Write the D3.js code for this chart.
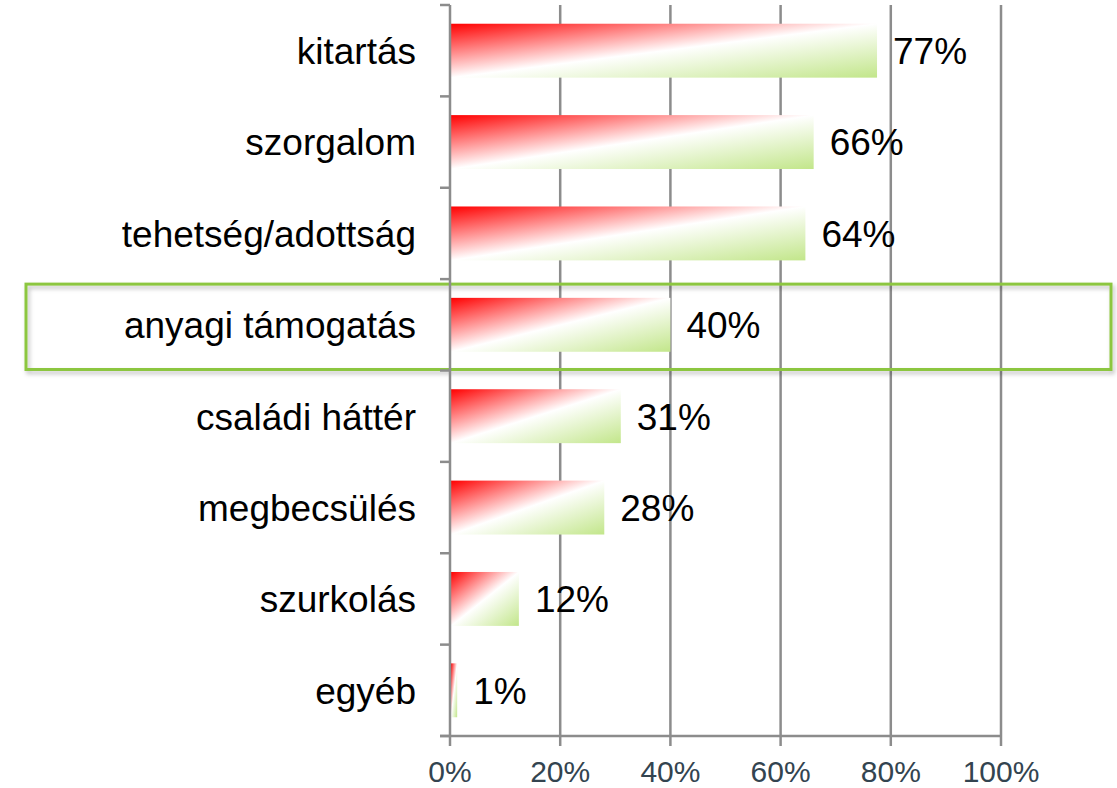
<!DOCTYPE html>
<html>
<head>
<meta charset="utf-8">
<script src="https://cdn.jsdelivr.net/npm/d3@7"></script>
<style>
  body { margin: 0; background: #fff; }
  text { font-family: "Liberation Sans", Arial, sans-serif; }
</style>
</head>
<body>
<div id="chart"></div>
<script>
var categories = ["kitartás", "szorgalom", "tehetség/adottság", "anyagi támogatás",
                  "családi háttér", "megbecsülés", "szurkolás", "egyéb"];
var values = [0.775, 0.66, 0.645, 0.40, 0.31, 0.28, 0.125, 0.013];
var labels = ["77%", "66%", "64%", "40%", "31%", "28%", "12%", "1%"];
var xTicks = [0, 0.2, 0.4, 0.6, 0.8, 1.0];
var highlighted = "anyagi támogatás";

var W = 1117, H = 788;
var GRID = "#8c8c8c";

var svg = d3.select("#chart").append("svg")
    .attr("width", W).attr("height", H);

var defs = svg.append("defs");
var grad = defs.append("linearGradient")
    .attr("id", "barGrad")
    .attr("x1", 0).attr("y1", 0).attr("x2", 1).attr("y2", 1);
grad.append("stop").attr("offset", "0%").attr("stop-color", "#ff0000");
grad.append("stop").attr("offset", "50%").attr("stop-color", "#ffffff");
grad.append("stop").attr("offset", "100%").attr("stop-color", "#c2e68a");

var shadow = defs.append("filter").attr("id", "shadow")
    .attr("x", "-5%").attr("y", "-20%").attr("width", "110%").attr("height", "150%");
shadow.append("feDropShadow")
    .attr("dx", 2).attr("dy", 3).attr("stdDeviation", 2)
    .attr("flood-color", "#000").attr("flood-opacity", 0.25);

var x = d3.scaleLinear().domain([0, 1]).range([450, 1001]);
var y = d3.scaleBand().domain(categories).range([5, 736])
    .paddingInner(0.41).paddingOuter(0.205);

// vertical gridlines
svg.append("g").selectAll("line").data(xTicks.slice(1)).enter().append("line")
    .attr("x1", function(d){ return x(d); }).attr("x2", function(d){ return x(d); })
    .attr("y1", 5).attr("y2", 736)
    .attr("stroke", GRID).attr("stroke-width", 2.5);

// highlight box
var hStart = y(highlighted) - y.step() * y.paddingInner() / 2;
svg.append("rect")
    .attr("x", 26).attr("y", hStart + 5)
    .attr("width", 1085).attr("height", y.step() - 6)
    .attr("fill", "none")
    .attr("stroke", "#8cc63f").attr("stroke-width", 3)
    .attr("filter", "url(#shadow)");

// bars
svg.append("g").selectAll("rect").data(values).enter().append("rect")
    .attr("x", x(0) + 1)
    .attr("y", function(d, i){ return y(categories[i]); })
    .attr("width", function(d){ return x(d) - x(0) - 1; })
    .attr("height", y.bandwidth())
    .attr("fill", "url(#barGrad)");

// value labels
svg.append("g").selectAll("text").data(values).enter().append("text")
    .attr("x", function(d){ return x(d) + 16; })
    .attr("y", function(d, i){ return y(categories[i]) + y.bandwidth() / 2; })
    .attr("dy", "0.36em")
    .attr("font-size", 37)
    .attr("fill", "#000")
    .text(function(d, i){ return labels[i]; });

// y axis
var yAxis = svg.append("g");
yAxis.append("line")
    .attr("x1", x(0)).attr("x2", x(0)).attr("y1", 5).attr("y2", 736)
    .attr("stroke", GRID).attr("stroke-width", 2.5);
var boundaries = d3.range(categories.length + 1).map(function(i){ return 5 + i * y.step(); });
yAxis.selectAll(".ytick").data(boundaries).enter().append("line")
    .attr("class", "ytick")
    .attr("x1", x(0) - 10).attr("x2", x(0))
    .attr("y1", function(d){ return d; }).attr("y2", function(d){ return d; })
    .attr("stroke", GRID).attr("stroke-width", 2.5);
yAxis.selectAll("text").data(categories).enter().append("text")
    .attr("x", x(0) - 34)
    .attr("y", function(d){ return y(d) + y.bandwidth() / 2; })
    .attr("dy", "0.36em")
    .attr("text-anchor", "end")
    .attr("font-size", 37)
    .attr("fill", "#000")
    .text(function(d){ return d; });

// x axis
var xAxis = svg.append("g");
xAxis.append("line")
    .attr("x1", x(0) - 10).attr("x2", x(1)).attr("y1", 736).attr("y2", 736)
    .attr("stroke", GRID).attr("stroke-width", 2.5);
xAxis.selectAll(".xtick").data(xTicks).enter().append("line")
    .attr("class", "xtick")
    .attr("x1", function(d){ return x(d); }).attr("x2", function(d){ return x(d); })
    .attr("y1", 736).attr("y2", 746)
    .attr("stroke", GRID).attr("stroke-width", 2.5);
xAxis.selectAll("text").data(xTicks).enter().append("text")
    .attr("x", function(d){ return x(d); })
    .attr("y", 782)
    .attr("text-anchor", "middle")
    .attr("font-size", 30)
    .attr("fill", "#334450")
    .text(d3.format(".0%"));
</script>
</body>
</html>
